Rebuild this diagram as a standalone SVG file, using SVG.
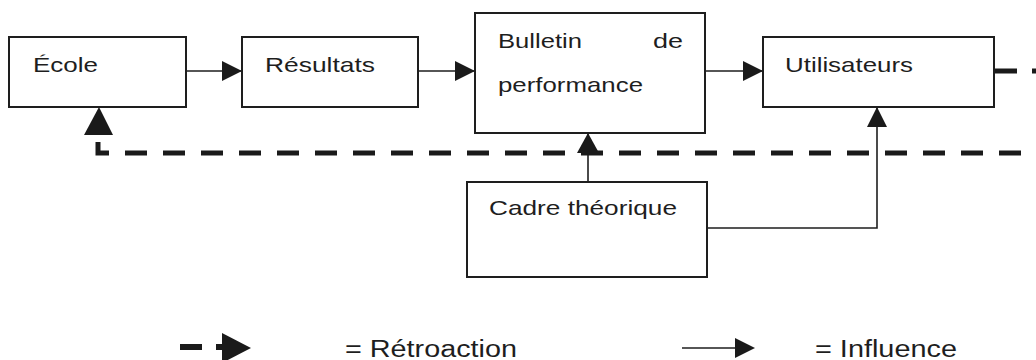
<svg xmlns="http://www.w3.org/2000/svg" width="1036" height="360" viewBox="0 0 1036 360">
  <defs>
    <style>
      .box { fill: #ffffff; stroke: #1e1e1e; stroke-width: 2; }
      .lbl { font-family: "Liberation Sans", Arial, sans-serif; font-size: 21px; fill: #1e1e1e; }
      .leg { font-family: "Liberation Sans", Arial, sans-serif; font-size: 23px; fill: #1e1e1e; }
      .ln { fill: none; stroke: #1e1e1e; stroke-width: 1.6; }
      .dash { fill: none; stroke: #1a1a1a; stroke-width: 5; }
      .head { fill: #1a1a1a; }
    </style>
    <marker id="arr" markerUnits="userSpaceOnUse" markerWidth="20" markerHeight="20" refX="20" refY="10" orient="auto" viewBox="0 0 20 20">
      <path d="M0,0 L20,10 L0,20 Z" class="head"/>
    </marker>
    <marker id="arrW" markerUnits="userSpaceOnUse" markerWidth="20" markerHeight="22" refX="20" refY="11" orient="auto" viewBox="0 0 20 22">
      <path d="M0,0 L20,11 L0,22 Z" class="head"/>
    </marker>
  </defs>
  <rect width="1036" height="360" fill="#ffffff"/>

  <g id="connectors">
    <line class="ln" x1="187" y1="71" x2="242" y2="71" marker-end="url(#arr)"/>
    <line class="ln" x1="419" y1="71" x2="475" y2="71" marker-end="url(#arr)"/>
    <line class="ln" x1="706" y1="71" x2="763" y2="71" marker-end="url(#arr)"/>
    <line class="ln" x1="588" y1="182" x2="588" y2="133" marker-end="url(#arrW)"/>
    <path class="ln" d="M707,228 H877 V107" marker-end="url(#arr)"/>
    <path class="dash" d="M995,71 H1036" stroke-dasharray="22 15"/>
    <path class="dash" d="M98,142 V153 H1036" stroke-dasharray="22 16"/>
    <polygon class="head" points="84,135 113,135 99,107"/>
  </g>

  <g id="node-ecole">
    <rect class="box" x="9" y="37" width="177" height="70"/>
    <text class="lbl" x="33" y="72" textLength="65" lengthAdjust="spacingAndGlyphs">École</text>
  </g>
  <g id="node-resultats">
    <rect class="box" x="242" y="37" width="176" height="70"/>
    <text class="lbl" x="265" y="72" textLength="110" lengthAdjust="spacingAndGlyphs">Résultats</text>
  </g>
  <g id="node-bulletin">
    <rect class="box" x="475" y="13" width="230" height="120"/>
    <text class="lbl" x="498" y="48" textLength="84" lengthAdjust="spacingAndGlyphs">Bulletin</text>
    <text class="lbl" x="653" y="48" textLength="30" lengthAdjust="spacingAndGlyphs">de</text>
    <text class="lbl" x="498" y="92" textLength="145" lengthAdjust="spacingAndGlyphs">performance</text>
  </g>
  <g id="node-utilisateurs">
    <rect class="box" x="763" y="37" width="231" height="70"/>
    <text class="lbl" x="785" y="72" textLength="128" lengthAdjust="spacingAndGlyphs">Utilisateurs</text>
  </g>
  <g id="node-cadre">
    <rect class="box" x="467" y="182" width="240" height="95"/>
    <text class="lbl" x="489" y="215" textLength="188" lengthAdjust="spacingAndGlyphs">Cadre théorique</text>
  </g>

  <g id="legend">
    <line x1="180" y1="347" x2="202" y2="347" stroke="#1a1a1a" stroke-width="6"/>
    <line x1="216" y1="347" x2="226" y2="347" stroke="#1a1a1a" stroke-width="6"/>
    <polygon class="head" points="222,333 251,348 222,363"/>
    <text class="leg" x="345" y="357" textLength="172" lengthAdjust="spacingAndGlyphs">= Rétroaction</text>
    <line x1="682" y1="348" x2="737" y2="348" stroke="#1e1e1e" stroke-width="1.6"/>
    <polygon class="head" points="735,338 755,348 735,358"/>
    <text class="leg" x="815" y="357" textLength="142" lengthAdjust="spacingAndGlyphs">= Influence</text>
  </g>
</svg>
